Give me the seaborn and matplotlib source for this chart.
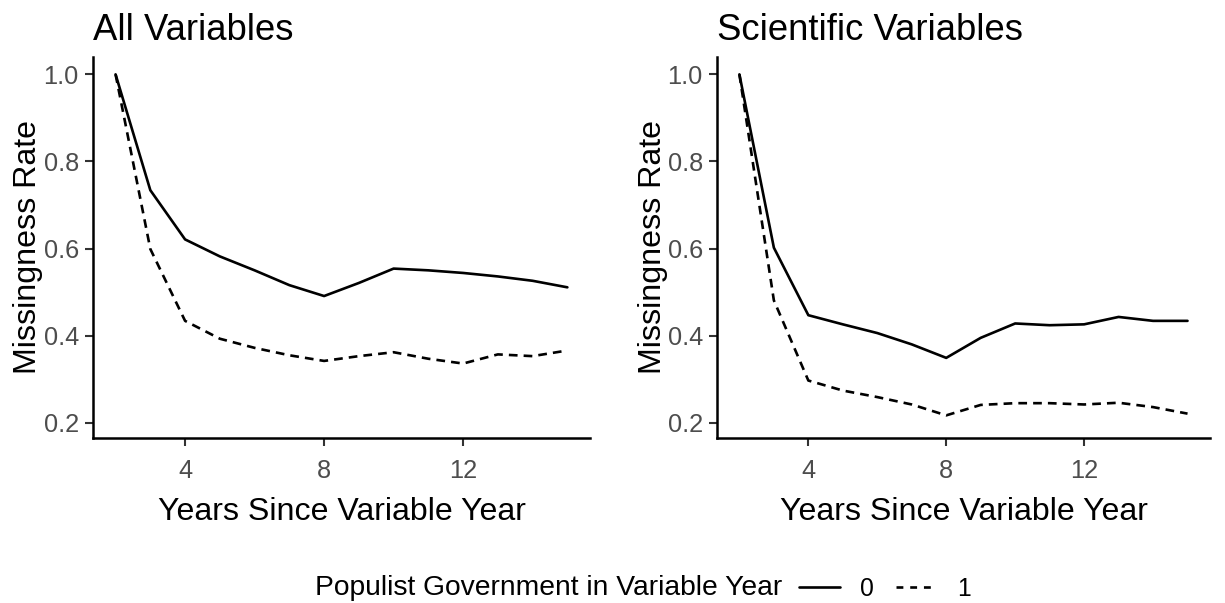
import matplotlib
matplotlib.use('Agg')
import matplotlib.pyplot as plt
import seaborn as sns
import numpy as np
import pandas as pd
from matplotlib.lines import Line2D

years = list(range(2, 16))

# All Variables panel
all_pop0 = [1.0, 0.734, 0.621, 0.582, 0.550, 0.516, 0.491, 0.521, 0.554, 0.550, 0.544, 0.536, 0.526, 0.511]
all_pop1 = [1.0, 0.599, 0.434, 0.393, 0.372, 0.355, 0.342, 0.353, 0.362, 0.347, 0.336, 0.357, 0.353, 0.366]

# Scientific Variables panel
sci_pop0 = [1.0, 0.602, 0.447, 0.426, 0.406, 0.380, 0.349, 0.395, 0.428, 0.424, 0.426, 0.443, 0.434, 0.434]
sci_pop1 = [1.0, 0.481, 0.297, 0.274, 0.259, 0.242, 0.217, 0.241, 0.245, 0.245, 0.242, 0.246, 0.236, 0.221]

panels = [('All Variables', all_pop0, all_pop1), ('Scientific Variables', sci_pop0, sci_pop1)]
y_ticks = [0.2, 0.4, 0.6, 0.8, 1.0]
x_ticks = [4, 8, 12]

sns.set_theme(style="ticks")
plt.rcParams['font.family'] = ['Liberation Sans', 'DejaVu Sans']

fig = plt.figure(figsize=(12.25, 6.03), dpi=100)
positions = [[0.0759, 0.2736, 0.4057, 0.632], [0.5853, 0.2736, 0.4024, 0.632]]
dash_style = {'0': '', '1': (3.3, 2.3)}

for pos, (title, v0, v1) in zip(positions, panels):
    ax = fig.add_axes(pos)
    df = pd.DataFrame({
        'years': years + years,
        'rate': v0 + v1,
        'populist': ['0'] * len(years) + ['1'] * len(years),
    })
    sns.lineplot(data=df, x='years', y='rate', style='populist', dashes=dash_style,
                 color='black', linewidth=1.9, legend=False, ax=ax)
    for ln in ax.get_lines():
        ln.set_dash_capstyle('butt')
    ax.set_xlim(1.35, 15.65)
    ax.set_ylim(0.165, 1.04)
    ax.set_xticks(x_ticks)
    ax.set_yticks(y_ticks)
    ax.set_yticklabels([f'{t:.1f}' for t in y_ticks])
    ax.tick_params(axis='both', labelsize=18.3, labelcolor='#4d4d4d', color='#333333',
                   length=6, width=1.5)
    ax.tick_params(axis='x', pad=9.3)
    ax.tick_params(axis='y', pad=4.2)
    for side in ['top', 'right']:
        ax.spines[side].set_visible(False)
    for side in ['left', 'bottom']:
        ax.spines[side].set_linewidth(1.8)
        ax.spines[side].set_color('black')
    ax.set_xlabel('Years Since Variable Year', fontsize=23.1, color='black')
    ax.set_ylabel('Missingness Rate', fontsize=23.1, color='black')
    ax.xaxis.set_label_coords(0.5, -0.154)
    ax.yaxis.set_label_coords(-0.100, 0.5)
    ax.set_title(title, fontsize=26.3, loc='left', pad=12.2, color='black')

# shared legend at the bottom
fig.text(0.257, 1 - 595 / 603, 'Populist Government in Variable Year', fontsize=20.3,
         va='baseline', ha='left', color='black')
handles = [Line2D([], [], color='black', linewidth=1.9),
           Line2D([], [], color='black', linewidth=1.9, linestyle=(0, (2.6, 2.6)), dash_capstyle='butt')]
leg = fig.legend(handles, ['0', '1'], loc='center left', bbox_to_anchor=(799 / 1225, 1 - 589 / 603), ncol=2,
                 frameon=False, fontsize=17.8, handlelength=1.65, handletextpad=0.82, columnspacing=0.9,
                 borderpad=0, borderaxespad=0)
for t in leg.get_texts():
    t.set_color('black')

fig.savefig('out.png', dpi=100)
